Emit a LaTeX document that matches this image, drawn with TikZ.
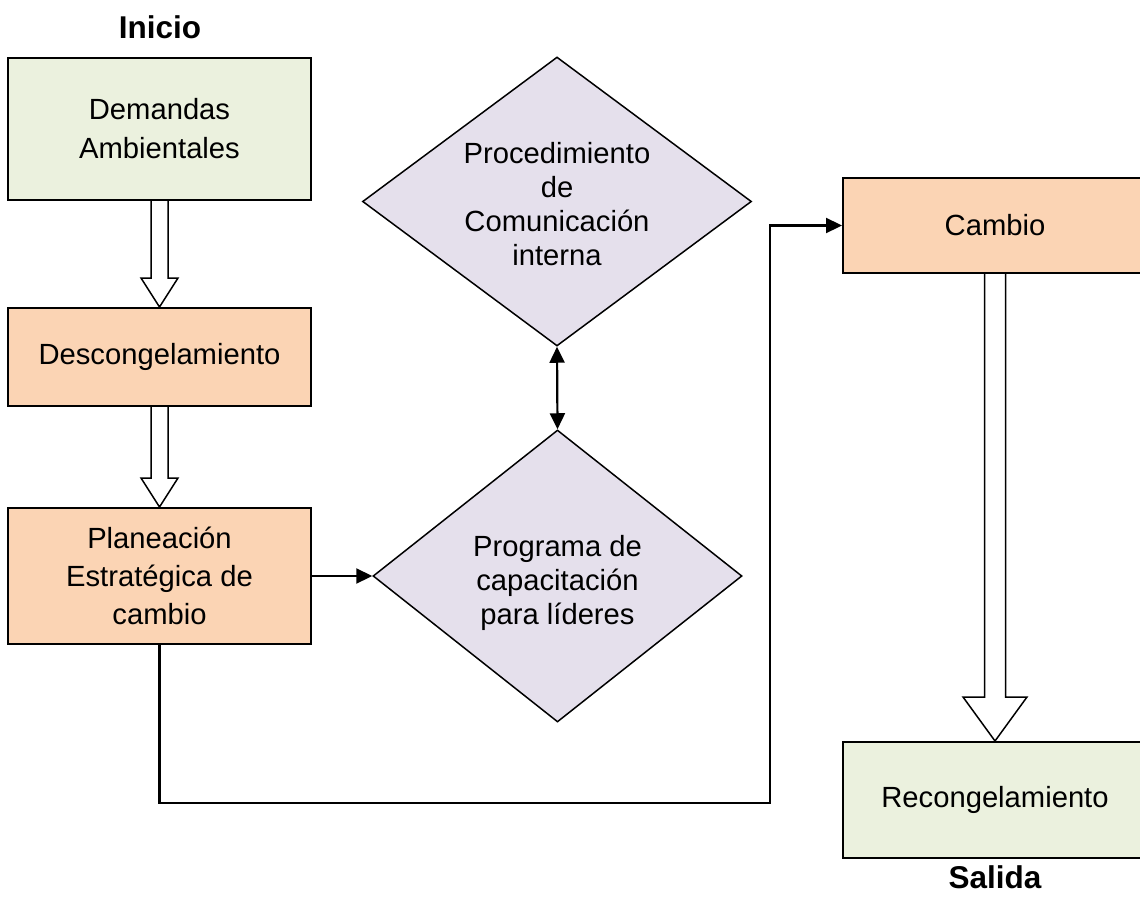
\documentclass[tikz,border=0pt]{standalone}
\usepackage{fontspec}
\setmainfont{Liberation Sans}
\usetikzlibrary{shapes.geometric,arrows.meta,calc}
\definecolor{boxgreen}{HTML}{EBF1DE}
\definecolor{boxpeach}{HTML}{FBD4B4}
\definecolor{boxlilac}{HTML}{E5E0EC}
\tikzset{
  procbox/.style={draw=black, line width=2pt, inner sep=0pt, align=center,
    font=\fontsize{29.2pt}{38pt}\selectfont},
  greenbox/.style={procbox, fill=boxgreen},
  peachbox/.style={procbox, fill=boxpeach},
  decbox/.style={diamond, draw=black, line width=1.5pt, fill=boxlilac, inner sep=0pt},
  dectext/.style={align=center, inner sep=0pt, font=\fontsize{29.2pt}{34pt}\selectfont},
  tip/.style={},
  conn/.style={draw=black, line width=2.2pt, -{Triangle[length=16pt,width=15pt]}},
  hollow/.style={draw=black, line width=1.5pt, fill=white},
  titletext/.style={font=\fontsize{31.5pt}{36pt}\selectfont\bfseries, inner sep=0pt}
}
% #1 from node, #2 to node, #3 shaft half width, #4 head half width, #5 head length
\newcommand\hollowarr[5]{%
  \draw[hollow] let \p1=(#1.south), \p2=(#2.north) in
    ({\x1-#3pt},\y1) -- ({\x1-#3pt},{\y2+#5pt}) -- ({\x1-#4pt},{\y2+#5pt}) --
    (\x1,\y2) -- ({\x1+#4pt},{\y2+#5pt}) -- ({\x1+#3pt},{\y2+#5pt}) -- ({\x1+#3pt},\y1);}
\begin{document}
\begin{tikzpicture}[x=1pt,y=-1pt]
\useasboundingbox (0,0) rectangle (1140,899);
\node[titletext] (inicio) at (160,27) {Inicio};
\node[greenbox, minimum width=303pt, minimum height=142pt, font=\fontsize{29.2pt}{39pt}\selectfont] (dem) at (159.5,129) {Demandas\\Ambientales};
\node[peachbox, minimum width=303pt, minimum height=98pt] (des) at (159.5,357) {Descongelamiento};
\node[peachbox, minimum width=303pt, minimum height=136pt] (pla) at (159.5,576) {Planeación\\Estratégica de\\cambio};
\node[decbox, minimum width=389pt, minimum height=289pt] (d1) at (557,201.5) {};
\node[dectext] (d1t) at (557,204) {Procedimiento\\de\\Comunicación\\interna};
\node[decbox, minimum width=369pt, minimum height=292pt] (d2) at (557.5,576) {};
\node[dectext] (d2t) at (557.5,583) {Programa de\\capacitación\\para líderes};
\node[peachbox, minimum width=304pt, minimum height=95pt] (cam) at (995,225.5) {Cambio};
\node[greenbox, minimum width=304pt, minimum height=116pt] (rec) at (995,800) {Recongelamiento};
\node[titletext] (salida) at (995,877) {Salida};
\coordinate (elb) at (770,803);
\hollowarr{dem}{des}{8.5}{18.5}{29}
\hollowarr{des}{pla}{8.5}{18.5}{29}
\hollowarr{cam}{rec}{10.5}{32}{44}
\draw[conn] (pla.east) -- (d2.west);
\draw[conn, {Triangle[length=16pt,width=15pt]}-{Triangle[length=16pt,width=15pt]}] (d1.south) -- (d2.north);
\draw[conn] (pla.south) |- (elb) |- (cam.west);
\end{tikzpicture}
\end{document}
